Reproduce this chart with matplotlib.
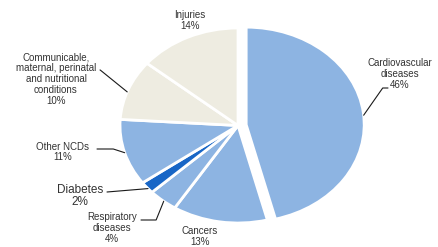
import numpy as np
import matplotlib
matplotlib.use('Agg')
import matplotlib.pyplot as plt

# data, clockwise from 12 o'clock
names = ['Cardiovascular\ndiseases', 'Cancers', 'Respiratory\ndiseases', 'Diabetes',
         'Other NCDs', 'Communicable,\nmaternal, perinatal\nand nutritional\nconditions', 'Injuries']
values = [46, 13, 4, 2, 11, 10, 14]

light_blue = '#8db4e2'
colors = [light_blue, light_blue, light_blue, '#1866c6', light_blue, '#eeece1', '#eeece1']
explode = [0.07, 0, 0, 0, 0, 0, 0]

W, H = 438, 247
fig = plt.figure(figsize=(W / 100, H / 100), dpi=100)

# pie geometry in pixels (from top-left): centre and radii of the ellipse
cx, cy, rx, ry = 238, 125.5, 118, 97.5
lim = 1.3
ax = fig.add_axes([(cx - lim * rx) / W, (H - cy - lim * ry) / H,
                   2 * lim * rx / W, 2 * lim * ry / H])
wedges, _ = ax.pie(values, colors=colors, startangle=90, counterclock=False,
                   explode=explode, wedgeprops=dict(edgecolor='white', linewidth=2))
ax.set_aspect('auto')
ax.set_xlim(-lim, lim)
ax.set_ylim(-lim, lim)
ax.axis('off')


def edge_point(w, f):
    t = np.deg2rad(w.theta1 + f * (w.theta2 - w.theta1))
    return (w.center[0] + w.r * np.cos(t), w.center[1] + w.r * np.sin(t))


txt_color = '#333333'
font = 'Liberation Sans'

# label text: (x, y) centre in pixels from top-left, font size
label_pos = [(400, 74, 7), (200, 236.5, 7), (112, 228, 7), (80, 196, 8.5),
             (63, 152, 7), (56, 79, 7), (190, 20.5, 7)]
for name, v, (x, y, fs) in zip(names, values, label_pos):
    fig.text(x / W, 1 - y / H, '%s\n%d%%' % (name, v), ha='center', va='center',
             fontsize=fs, color=txt_color, family=font, linespacing=1.1)

# leader lines: wedge index, fraction along the wedge, start (pixels from top), connection
leaders = [
    (0, 0.49, (388, 88), 'angle,angleA=0,angleB=55,rad=0'),
    (5, 0.54, (100, 70), 'angle,angleA=0,angleB=-39,rad=0'),
    (4, 0.5, (97, 149), 'angle,angleA=0,angleB=-18,rad=0'),
    (3, 0.6, (107, 192), 'arc3,rad=0'),
    (2, 0.54, (141, 220), 'angle,angleA=0,angleB=68,rad=0'),
]
for i, f, (sx, sy), conn in leaders:
    ax.annotate('', xy=edge_point(wedges[i], f), xycoords='data',
                xytext=(sx, H - sy), textcoords='figure pixels',
                arrowprops=dict(arrowstyle='-', color='#1a1a1a', lw=0.8,
                                shrinkA=0, shrinkB=0, connectionstyle=conn),
                annotation_clip=False)

fig.savefig('out.png', dpi=100)
